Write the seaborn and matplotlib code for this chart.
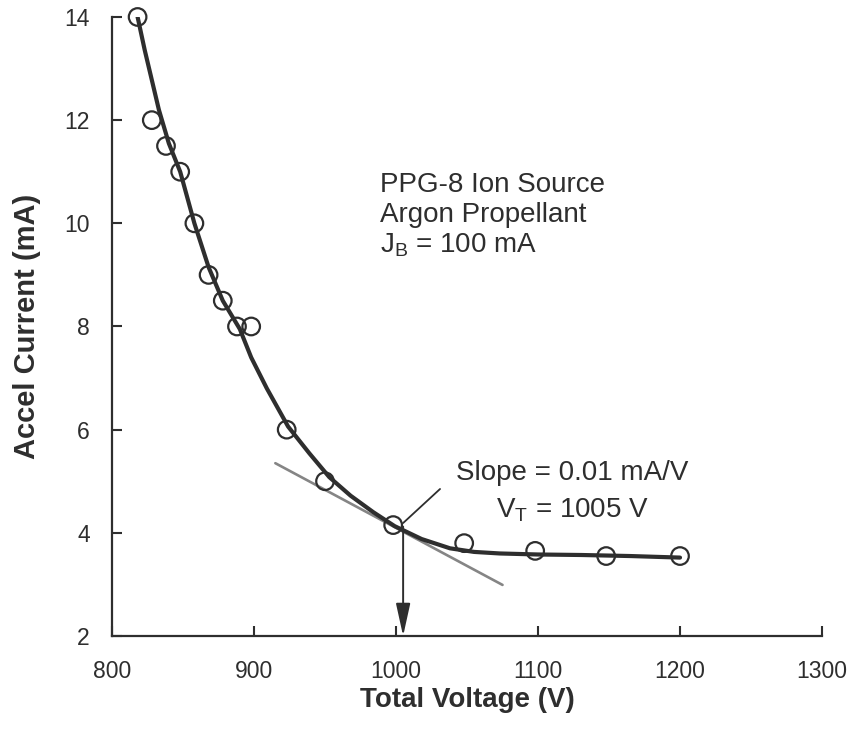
import numpy as np
import pandas as pd
import seaborn as sns
from matplotlib import pyplot as plt

# Measured points (total voltage in V, accel current in mA)
volts = [818, 828, 838, 848, 858, 868, 878, 888, 898, 923, 950, 998, 1048, 1098, 1148, 1200]
accel = [14.0, 12.0, 11.5, 11.0, 10.0, 9.0, 8.5, 8.0, 8.0, 6.0, 5.0, 4.15, 3.8, 3.65, 3.55, 3.55]

# Fitted curve
curve_v = [818, 823, 833, 840, 848, 858, 868, 878, 890, 898, 909, 924, 939, 953, 968, 984,
           999, 1018, 1038, 1055, 1073, 1100, 1131, 1165, 1200]
curve_i = [14.0, 13.36, 12.2, 11.55, 11.0, 10.0, 9.15, 8.5, 7.95, 7.4, 6.8, 6.06, 5.54, 5.08, 4.72, 4.4,
           4.13, 3.88, 3.7, 3.63, 3.6, 3.58, 3.57, 3.55, 3.52]

# Tangent line and threshold marker
tangent_v = [915, 1075]
tangent_i = [5.35, 2.99]
leader_v = [1005, 1031]
leader_i = [4.19, 4.85]
v_threshold = 1005

pts = pd.DataFrame({'Total Voltage (V)': volts, 'Accel Current (mA)': accel})
fit = pd.DataFrame({'v': curve_v, 'i': curve_i})

sns.set_theme(style='ticks')
plt.rcParams['font.family'] = ['Liberation Sans', 'DejaVu Sans']
plt.rcParams['mathtext.fontset'] = 'custom'
plt.rcParams['mathtext.rm'] = 'Liberation Sans'
plt.rcParams['mathtext.it'] = 'Liberation Sans:italic'

ink = '#2e2e2e'
fig = plt.figure(figsize=(8.52, 7.35), dpi=100)
ax = fig.add_axes([0.1315, 0.1347, 0.8333, 0.8422])

# Tangent line
ax.plot(tangent_v, tangent_i, color='#858585', lw=1.9, zorder=2)

# Fit curve
sns.lineplot(data=fit, x='v', y='i', sort=False, estimator=None, color=ink, lw=3, ax=ax, zorder=3)

# Data points
sns.scatterplot(data=pts, x='Total Voltage (V)', y='Accel Current (mA)', marker='o', s=160,
                facecolor='none', edgecolor=ink, linewidth=1.6, ax=ax, zorder=4, clip_on=False)

# Leader line and arrow to the threshold voltage
ax.plot(leader_v, leader_i, color=ink, lw=1.3, zorder=5)
ax.annotate('', xy=(v_threshold, 2), xytext=(v_threshold, 4.12),
            arrowprops=dict(arrowstyle='-|>,head_length=1.0,head_width=0.22', mutation_scale=20,
                            lw=1.4, color=ink, shrinkA=0, shrinkB=0), zorder=5)

# Annotation text
txt = dict(fontsize=20, color=ink)
ax.text(989, 10.61, 'PPG-8 Ion Source', ha='left', va='baseline', **txt)
ax.text(989, 10.03, 'Argon Propellant', ha='left', va='baseline', **txt)
ax.text(989, 9.44, r'J$_\mathrm{B}$ = 100 mA', ha='left', va='baseline', **txt)
ax.text(1124, 5.02, 'Slope = 0.01 mA/V', ha='center', va='baseline', **txt)
ax.text(1124, 4.29, r'V$_\mathrm{T}$ = 1005 V', ha='center', va='baseline', **txt)

ax.set_xlim(800, 1300)
ax.set_ylim(2, 14)
ax.set_xticks(np.arange(800, 1301, 100))
ax.set_yticks(np.arange(2, 15, 2))
ax.tick_params(direction='in', length=7, width=1.5, color=ink, labelsize=16.5, labelcolor=ink)
ax.tick_params(axis='x', pad=17)
ax.tick_params(axis='y', pad=16)

for side in ['top', 'right']:
    ax.spines[side].set_visible(False)
for side in ['left', 'bottom']:
    ax.spines[side].set_color(ink)
    ax.spines[side].set_linewidth(1.6)

ax.set_xlabel('Total Voltage (V)', fontsize=20, fontweight='bold', color=ink)
ax.set_ylabel('Accel Current (mA)', fontsize=21, fontweight='bold', color=ink)
ax.xaxis.set_label_coords(0.5, -0.082)
ax.yaxis.set_label_coords(-0.1, 0.5)

fig.savefig('out.png', dpi=100, facecolor='white')
